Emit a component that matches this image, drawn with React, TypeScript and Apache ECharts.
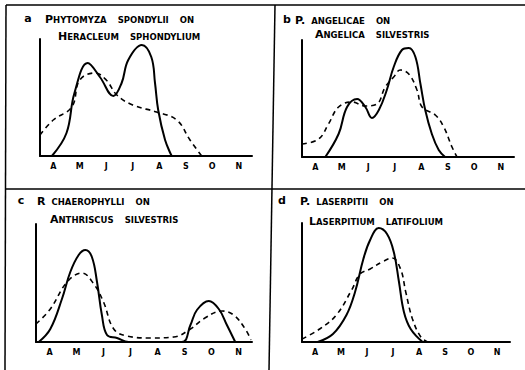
import React, { useEffect, useRef } from "react";
import * as echarts from "echarts";

const months = ["A", "M", "J", "J", "A", "S", "O", "N"];

// [month position (0 = start of April), relative abundance]
const aSolid = [[0.45, 0], [1.0, 23], [1.3, 63], [1.8, 93], [2.26, 79], [2.77, 60], [3.08, 73], [3.33, 96], [3.84, 111], [4.2, 99], [4.34, 73], [4.46, 46], [4.72, 16], [4.97, 0]];
const aDashed = [[0, 21], [0.5, 36], [1.2, 49], [1.5, 76], [2.08, 83], [2.5, 76], [2.9, 61], [3.5, 51], [4.4, 44], [5.16, 36], [5.66, 16], [6.1, 0]];

const bSolid = [[0.88, 0], [1.38, 23], [1.7, 50], [2.08, 58], [2.39, 50], [2.64, 39], [2.9, 47], [3.2, 67], [3.46, 90], [3.77, 107], [4.03, 109], [4.28, 100], [4.47, 73], [4.65, 47], [4.9, 23], [5.16, 7], [5.4, 0]];
const bDashed = [[0, 13], [0.63, 18], [1.0, 33], [1.38, 50], [1.89, 55], [2.39, 51], [2.83, 53], [3.14, 70], [3.46, 80], [3.71, 87], [4.03, 83], [4.34, 67], [4.53, 50], [5.03, 42], [5.35, 30], [5.66, 10], [5.85, 0]];

const cSolid = [[0.1, 0], [0.53, 13], [0.96, 43], [1.27, 70], [1.58, 87], [1.83, 92], [2.07, 85], [2.26, 60], [2.44, 27], [2.63, 7], [3.0, 4], [3.43, 0], [5.4, 0], [5.72, 17], [5.96, 32], [6.4, 41], [6.77, 33], [7.07, 17], [7.38, 0]];
const cDashed = [[0, 18], [0.53, 33], [1.15, 60], [1.7, 69], [2.14, 58], [2.5, 40], [2.88, 13], [3.37, 6], [4.23, 4], [5.1, 5], [5.72, 13], [6.2, 23], [6.89, 31], [7.32, 27], [7.75, 13], [7.96, 2]];

const dSolid = [[0.6, 0], [1.19, 8], [1.71, 27], [2.04, 50], [2.36, 83], [2.62, 102], [2.95, 114], [3.27, 108], [3.53, 90], [3.73, 60], [3.92, 30], [4.18, 13], [4.64, 0]];
const dDashed = [[0, 3], [0.68, 13], [1.32, 27], [1.91, 52], [2.23, 68], [2.62, 73], [3.08, 80], [3.47, 84], [3.79, 73], [3.99, 50], [4.25, 23], [4.57, 5], [4.83, 0]];

const FONT = "'DejaVu Sans', sans-serif";

export default function App() {
  const ref = useRef<HTMLDivElement>(null);
  useEffect(() => {
    if (!ref.current) return;
    const chart = echarts.init(ref.current, null, { renderer: "svg" });
    const grids = [
      { left: 40, top: 39, width: 212, height: 117 },
      { left: 302, top: 40, width: 212, height: 117 },
      { left: 36, top: 224, width: 216, height: 118 },
      { left: 302, top: 223, width: 208, height: 119 },
    ];
    const panels = [
      [aSolid, aDashed],
      [bSolid, bDashed],
      [cSolid, cDashed],
      [dSolid, dDashed],
    ];
    const xAxis = grids.map((_, i) => ({
      type: "value",
      gridIndex: i,
      min: 0,
      max: 8,
      interval: 0.5,
      axisLine: { show: true, lineStyle: { color: "#000", width: 2 } },
      axisTick: { show: false },
      splitLine: { show: false },
      axisLabel: {
        margin: 6,
        color: "#000",
        fontSize: 8,
        fontWeight: "bold",
        fontFamily: FONT,
        showMinLabel: true,
        showMaxLabel: true,
        formatter: (v: number) => {
          const f = Math.floor(v);
          return Math.abs(v - f - 0.5) < 0.01 && f < months.length ? months[f] : "";
        },
      },
    }));
    const yAxis = grids.map((g, i) => ({
      type: "value",
      gridIndex: i,
      min: 0,
      max: g.height,
      axisLine: { show: true, lineStyle: { color: "#000", width: 2 } },
      axisTick: { show: false },
      axisLabel: { show: false },
      splitLine: { show: false },
    }));
    const series: any[] = [];
    panels.forEach((p, i) => {
      series.push({
        type: "line",
        xAxisIndex: i,
        yAxisIndex: i,
        data: p[0],
        smooth: 0.4,
        showSymbol: false,
        lineStyle: { color: "#000", width: 2 },
      });
      series.push({
        type: "line",
        xAxisIndex: i,
        yAxisIndex: i,
        data: p[1],
        smooth: 0.4,
        showSymbol: false,
        lineStyle: { color: "#000", width: 1.6, type: [5, 4] },
      });
    });
    const rich = {
      b: { fontSize: 11, fontWeight: "bold", fontFamily: FONT, fill: "#000", color: "#000", verticalAlign: "bottom", lineHeight: 13 },
      s: { fontSize: 8.5, fontWeight: "bold", fontFamily: FONT, fill: "#000", color: "#000", verticalAlign: "bottom", lineHeight: 13 },
      g: { width: 11, fontSize: 8, verticalAlign: "bottom", lineHeight: 13 },
      h: { width: 6, fontSize: 8, verticalAlign: "bottom", lineHeight: 13 },
    };
    const title = (x: number, y: number, text: string) => ({
      type: "text",
      x,
      y,
      style: { text, rich, fill: "#000", verticalAlign: "middle", align: "left", font: `bold 8px ${FONT}` },
    });
    const letter = (x: number, y: number, text: string) => ({
      type: "text",
      x,
      y,
      style: { text, fill: "#000", verticalAlign: "middle", align: "center", font: `bold 11px ${FONT}` },
    });
    const line = (x1: number, y1: number, x2: number, y2: number) => ({
      type: "line",
      shape: { x1, y1, x2, y2 },
      style: { stroke: "#000", lineWidth: 1.5 },
    });
    chart.setOption({
      animation: false,
      backgroundColor: "#fff",
      grid: grids,
      xAxis,
      yAxis,
      series,
      graphic: [
        line(6, 5, 525, 5),
        line(6, 5, 5, 370),
        line(6, 189, 525, 189),
        line(275, 5, 269, 370),
        letter(28, 18, "a"),
        title(45, 18, "{b|P}{s|HYTOMYZA}{g| }{s|SPONDYLII}{g| }{s|ON}"),
        title(58, 35, "{b|H}{s|ERACLEUM}{g| }{s|SPHONDYLIUM}"),
        letter(287, 19, "b"),
        title(295, 19, "{b|P.}{h| }{s|ANGELICAE}{g| }{s|ON}"),
        title(315, 33, "{b|A}{s|NGELICA}{g| }{s|SILVESTRIS}"),
        letter(21, 200, "c"),
        title(37, 200, "{b|R}{h| }{s|CHAEROPHYLLI}{g| }{s|ON}"),
        title(50, 218, "{b|A}{s|NTHRISCUS}{g| }{s|SILVESTRIS}"),
        letter(282, 200, "d"),
        title(300, 200, "{b|P.}{h| }{s|LASERPITII}{g| }{s|ON}"),
        title(309, 220, "{b|L}{s|ASERPITIUM}{g| }{s|LATIFOLIUM}"),
      ],
    });
    return () => chart.dispose();
  }, []);
  return (
    <div
      ref={ref}
      style={{ position: "absolute", left: 0, top: 0, width: 525, height: 370, background: "#fff" }}
    />
  );
}
